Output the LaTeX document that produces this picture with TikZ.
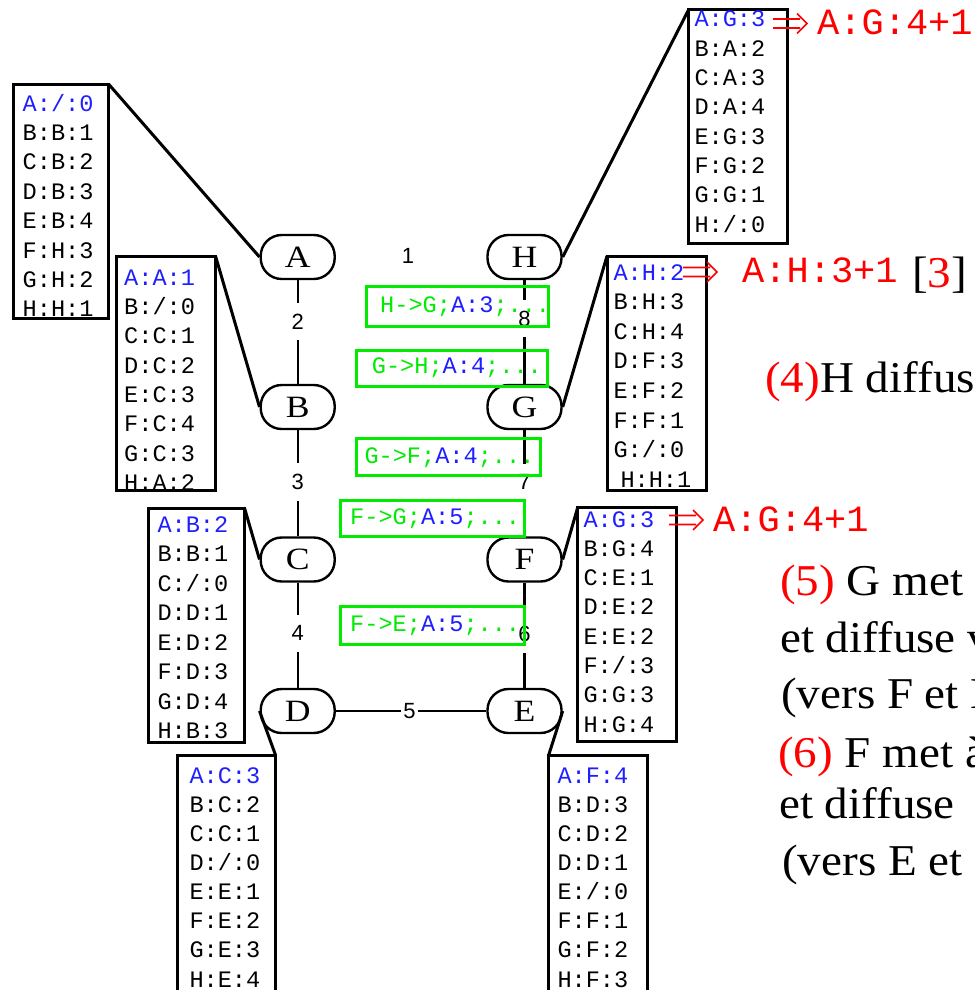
\documentclass[tikz,border=0pt]{standalone}
\usepackage{fontspec}
\setmainfont{Liberation Serif}
\newfontfamily\monof{Liberation Mono}
\newfontfamily\sansf{Liberation Sans}
\newfontfamily\nodeserif[FakeStretch=1.15]{Liberation Serif}
\newfontfamily\bigserif[FakeStretch=1.07]{Liberation Serif}
\definecolor{myblue}{RGB}{30,30,255}
\definecolor{mygreen}{RGB}{0,235,0}
\definecolor{myred}{RGB}{255,0,0}
\tikzset{
  vert/.style={draw, line width=2.4pt, rounded corners=21pt, minimum width=74pt, minimum height=44pt, inner sep=0pt, font=\nodeserif\fontsize{31}{31}\selectfont},
  tbox/.style={draw, line width=3pt, inner sep=0pt, outer sep=0pt, anchor=north west},
  conn/.style={line width=3pt},
  edge/.style={line width=2.4pt},
  lbl/.style={fill=white, inner xsep=2.5pt, inner ysep=11pt, font=\sansf\fontsize{22}{22}\selectfont},
  cell/.style={anchor=base west, inner sep=0pt, font=\monof\fontsize{23.6}{24}\selectfont},
  gbox/.style={draw=mygreen, line width=3pt, inner sep=0pt, outer sep=0pt, anchor=north west},
  rmono/.style={anchor=base west, inner sep=0pt, text=myred, font=\monof\fontsize{37}{37}\selectfont},
  serif/.style={anchor=base west, inner sep=0pt, font=\bigserif\fontsize{44}{44}\selectfont},
  redarr/.style={draw=myred, line width=1.7pt},
}
\newcommand\rtbl[6]{%
  \node[cell, text=myblue] (#1-1) at (#2,#3+7) {#5};
  \foreach \t [count=\i from 2] in {#6}{
    \node[cell] (#1-\i) at (#2,{#3+7+(\i-1)*#4}) {\t};
  }%
}
\newcommand\dblarr[2]{%
  \draw[redarr] ([yshift=4.5pt]#1) -- ([xshift=-7pt,yshift=4.5pt]#2)
                ([yshift=-4.5pt]#1) -- ([xshift=-7pt,yshift=-4.5pt]#2)
                ([xshift=-10pt,yshift=10pt]#2) -- (#2) -- ([xshift=-10pt,yshift=-10pt]#2);%
}
\begin{document}
\begin{tikzpicture}[x=1pt,y=-1pt]
\useasboundingbox (0,0) rectangle (974,990);
\clip (0,0) rectangle (974,990);

% graph nodes
\node[vert] (A) at (297.7,257) {A};
\node[vert] (B) at (297.7,407) {B};
\node[vert] (C) at (297.7,559.5) {C};
\node[vert] (D) at (297.7,711) {D};
\node[vert] (H) at (524.5,257) {H};
\node[vert] (G) at (524.5,407) {G};
\node[vert] (F) at (524.5,559.5) {F};
\node[vert] (E) at (524.5,711) {E};

% tables (frames)
\node[tbox, minimum width=95.5, minimum height=234] (tA) at (13,84) {};
\node[tbox, minimum width=99.5, minimum height=234.5] (tB) at (116,256) {};
\node[tbox, minimum width=96.2, minimum height=234] (tC) at (148.3,508) {};
\node[tbox, minimum width=98.5, minimum height=260] (tD) at (177,755) {};
\node[tbox, minimum width=98.3, minimum height=260] (tE) at (548.7,755) {};
\node[tbox, minimum width=98.2, minimum height=234.5] (tF) at (577.8,507) {};
\node[tbox, minimum width=99, minimum height=234.5] (tG) at (607,256) {};
\node[tbox, minimum width=98.6, minimum height=234.2] (tH) at (688.7,9.5) {};

% connectors table -> node
\draw[conn] (tA.north east) -- (A.west);
\draw[conn] (tB.north east) -- (B.west);
\draw[conn] (tC.north east) -- (C.west);
\draw[conn] (tD.north east) -- (D.west);
\draw[conn] (tE.north west) -- (E.east);
\draw[conn] (tF.north west) -- (F.east);
\draw[conn] (tG.north west) -- (G.east);
\draw[conn] (tH.north west) -- (H.east);

% edges
\node[font=\sansf\fontsize{22}{22}\selectfont, inner sep=0pt] (l1) at (408,256) {1};
\draw[edge] (A) -- node[lbl, pos=0.40] (l2) {2} (B);
\draw[edge] (B) -- node[lbl, pos=0.49] (l3) {3} (C);
\draw[edge] (C) -- node[lbl, pos=0.48] (l4) {4} (D);
\draw[edge] (D) -- node[lbl, pos=0.49] (l5) {5} (E);
\draw[edge] (E) -- node[lbl, pos=0.51] (l6) {6} (F);
\draw[edge] (F) -- node[lbl, pos=0.51] (l7) {7} (G);
\draw[edge] (G) -- node[lbl, pos=0.63] (l8) {8} (H);

% green message boxes
\node[gbox, minimum width=182.4, minimum height=40] (m1) at (366.3,286.2) {};
\node[gbox, minimum width=191.3, minimum height=36.6] (m2) at (356.2,350.2) {};
\node[gbox, minimum width=184, minimum height=36.9] (m3) at (356.2,438.3) {};
\node[gbox, minimum width=183.7, minimum height=36.6] (m4) at (340.8,500.2) {};
\node[gbox, minimum width=183.7, minimum height=37.7] (m5) at (340.8,606.8) {};
\node[cell] (m1t) at (380,312) {\textcolor{mygreen}{H->G;}\textcolor{myblue}{A:3}\textcolor{mygreen}{;...}};
\node[cell] (m2t) at (371.7,373.5) {\textcolor{mygreen}{G->H;}\textcolor{myblue}{A:4}\textcolor{mygreen}{;...}};
\node[cell] (m3t) at (364.3,463.5) {\textcolor{mygreen}{G->F;}\textcolor{myblue}{A:4}\textcolor{mygreen}{;...}};
\node[cell] (m4t) at (350,524.5) {\textcolor{mygreen}{F->G;}\textcolor{myblue}{A:5}\textcolor{mygreen}{;...}};
\node[cell] (m5t) at (350,631.5) {\textcolor{mygreen}{F->E;}\textcolor{myblue}{A:5}\textcolor{mygreen}{;...}};

% table contents
\rtbl{rA}{22.5}{104}{29.4}{A:/:0}{B:B:1,C:B:2,D:B:3,E:B:4,F:H:3,G:H:2,H:H:1}
\rtbl{rB}{124}{278.3}{29.3}{A:A:1}{B:/:0,C:C:1,D:C:2,E:C:3,F:C:4,G:C:3,H:A:2}
\rtbl{rC}{157.3}{525}{29.5}{A:B:2}{B:B:1,C:/:0,D:D:1,E:D:2,F:D:3,G:D:4,H:B:3}
\rtbl{rD}{189.3}{776}{29.15}{A:C:3}{B:C:2,C:C:1,D:/:0,E:E:1,F:E:2,G:E:3,H:E:4}
\rtbl{rE}{557.3}{776}{29.15}{A:F:4}{B:D:3,C:D:2,D:D:1,E:/:0,F:F:1,G:F:2,H:F:3}
\rtbl{rF}{583.3}{520}{29.3}{A:G:3}{B:G:4,C:E:1,D:E:2,E:E:2,F:/:3,G:G:3,H:G:4}
\rtbl{rG}{613.3}{273}{29.6}{A:H:2}{B:H:3,C:H:4,D:F:3,E:F:2,F:F:1,G:/:0,{\kern7pt H:H:1}}
\rtbl{rH}{694.3}{20}{29.3}{A:G:3}{B:A:2,C:A:3,D:A:4,E:G:3,F:G:2,G:G:1,H:/:0}

% red updates
\node[rmono] (u1) at (817,35) {A:G:4+1};
\coordinate (s1) at (773,23.5); \coordinate (e1) at (807,23.5);
\dblarr{s1}{e1}
\node[rmono] (u2) at (742,282) {A:H:3+1};
\node[serif] (u2b) at (912,287) {[\textcolor{myred}{3}]};
\coordinate (s2) at (683,272); \coordinate (e2) at (717,272);
\dblarr{s2}{e2}
\node[rmono] (u3) at (713,531.5) {A:G:4+1};
\coordinate (s3) at (669,520); \coordinate (e3) at (703,520);
\dblarr{s3}{e3}

% explanatory text
\node[serif] (x4) at (765,392) {\textcolor{myred}{(4)}H diffus};
\node[serif] (x5a) at (780,595) {\textcolor{myred}{(5)} G met};
\node[serif] (x5b) at (780,652) {et diffuse v};
\node[serif] (x5c) at (781,708) {(vers F et H};
\node[serif] (x6a) at (778,767) {\textcolor{myred}{(6)} F met à};
\node[serif] (x6b) at (779,818) {et diffuse};
\node[serif] (x6c) at (782,875) {(vers E et};
\end{tikzpicture}
\end{document}
